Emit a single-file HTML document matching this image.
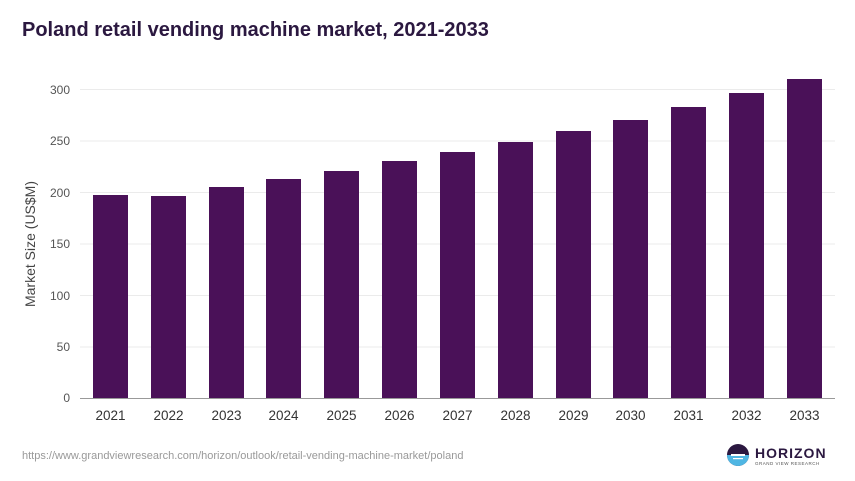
<!DOCTYPE html>
<html><head><meta charset="utf-8"><style>
html,body{margin:0;padding:0;background:#fff;}
svg{display:block;font-family:"Liberation Sans",sans-serif;}
</style></head><body>
<svg width="855" height="481" viewBox="0 0 855 481" xmlns="http://www.w3.org/2000/svg">
<rect width="855" height="481" fill="#fff"/>
<text x="22" y="36" font-size="20" font-weight="bold" fill="#2b1840">Poland retail vending machine market, 2021-2033</text>
<g stroke="#ebebeb" stroke-width="1">
<line x1="80" x2="835" y1="89.5" y2="89.5"/>
<line x1="80" x2="835" y1="141" y2="141"/>
<line x1="80" x2="835" y1="192.5" y2="192.5"/>
<line x1="80" x2="835" y1="244" y2="244"/>
<line x1="80" x2="835" y1="295.5" y2="295.5"/>
<line x1="80" x2="835" y1="347" y2="347"/>
</g>
<line x1="80" x2="835" y1="398.5" y2="398.5" stroke="#999" stroke-width="1"/>
<g font-size="12" fill="#555" text-anchor="end">
<text x="70" y="94">300</text><text x="70" y="145">250</text><text x="70" y="197">200</text>
<text x="70" y="248">150</text><text x="70" y="300">100</text><text x="70" y="351">50</text><text x="70" y="402">0</text>
</g>
<text transform="translate(35,244) rotate(-90)" font-size="14" fill="#444" text-anchor="middle">Market Size (US$M)</text>
<g fill="#4a1158">
<rect x="93" y="195" width="35" height="203"/>
<rect x="151" y="196" width="35" height="202"/>
<rect x="209" y="187" width="35" height="211"/>
<rect x="266" y="179" width="35" height="219"/>
<rect x="324" y="171" width="35" height="227"/>
<rect x="382" y="161" width="35" height="237"/>
<rect x="440" y="152" width="35" height="246"/>
<rect x="498" y="142" width="35" height="256"/>
<rect x="556" y="131" width="35" height="267"/>
<rect x="613" y="120" width="35" height="278"/>
<rect x="671" y="107" width="35" height="291"/>
<rect x="729" y="93" width="35" height="305"/>
<rect x="787" y="79" width="35" height="319"/>
</g>
<g font-size="13.5" fill="#333" text-anchor="middle">
<text x="110.5" y="420">2021</text><text x="168.5" y="420">2022</text><text x="226.5" y="420">2023</text>
<text x="283.5" y="420">2024</text><text x="341.5" y="420">2025</text><text x="399.5" y="420">2026</text>
<text x="457.5" y="420">2027</text><text x="515.5" y="420">2028</text><text x="573.5" y="420">2029</text>
<text x="630.5" y="420">2030</text><text x="688.5" y="420">2031</text><text x="746.5" y="420">2032</text>
<text x="804.5" y="420">2033</text>
</g>
<text x="22" y="459" font-size="11" fill="#999">https://www.grandviewresearch.com/horizon/outlook/retail-vending-machine-market/poland</text>
<g>
<circle cx="738" cy="455" r="11" fill="#2b1840"/>
<path d="M727 455 A11 11 0 0 0 749 455 Z" fill="#4fb6e3"/>
<rect x="731" y="454" width="14" height="2" fill="#fff"/>
<rect x="733" y="458" width="10" height="1.2" fill="#fff"/>
<text x="755" y="458" font-size="14" font-weight="bold" fill="#2b1840" letter-spacing="1">HORIZON</text>
<text x="755" y="465" font-size="4.5" fill="#555" letter-spacing="0.5">GRAND VIEW RESEARCH</text>
</g>
</svg>
</body></html>
